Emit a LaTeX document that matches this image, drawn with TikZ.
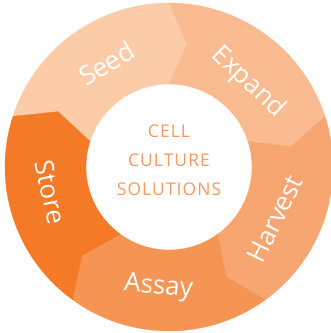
\documentclass[tikz,border=0pt]{standalone}
\usepackage{fontspec}
\setmainfont{Open Sans}
\usepackage{tikz}
\definecolor{seedc}{HTML}{FCCBA7}
\definecolor{expandc}{HTML}{F9BB8F}
\definecolor{harvestc}{HTML}{F7A671}
\definecolor{assayc}{HTML}{F69453}
\definecolor{storec}{HTML}{F47A27}
\definecolor{titlec}{HTML}{F59A60}
\tikzstyle{steplabel}=[text=white,font=\fontsize{26}{26}\selectfont,inner sep=0pt]
\tikzstyle{title}=[text=titlec,align=center,font=\fontsize{17.5}{29}\selectfont\addfontfeature{LetterSpace=6}]
% one piece of the ring, from angle #1 clockwise to angle #2
\newcommand{\ringpiece}[3]{%
  \fill[#3,draw=#3,line width=0.3pt] (#1:164) arc[start angle=#1, end angle=#2, radius=164]
    -- ({#2-8.5}:124) -- (#2:83) arc[start angle=#2, end angle=#1, radius=83]
    -- ({#1-8.5}:124) -- cycle;}

\begin{document}
\begin{tikzpicture}[x=1pt,y=1pt]
\useasboundingbox (-169,-166) rectangle (162,167);
\ringpiece{162}{90}{seedc}
\ringpiece{90}{18}{expandc}
\ringpiece{18}{-54}{harvestc}
\ringpiece{-54}{-126}{assayc}
\ringpiece{-126}{-198}{storec}
\node[title] (T) at (0,7) {CELL\\CULTURE\\SOLUTIONS};
\node[steplabel, rotate=31] (Seed) at (121:121) {Seed};
\node[steplabel, rotate=-43] (Expand) at (47:116) {Expand};
\node[steplabel, rotate=64] (Harvest) at (-26:118) {Harvest};
\node[steplabel, rotate=-5] (Assay) at (-95:121) {Assay};
\node[steplabel, rotate=-78] (Store) at (-168:121) {Store};
\end{tikzpicture}
\end{document}
